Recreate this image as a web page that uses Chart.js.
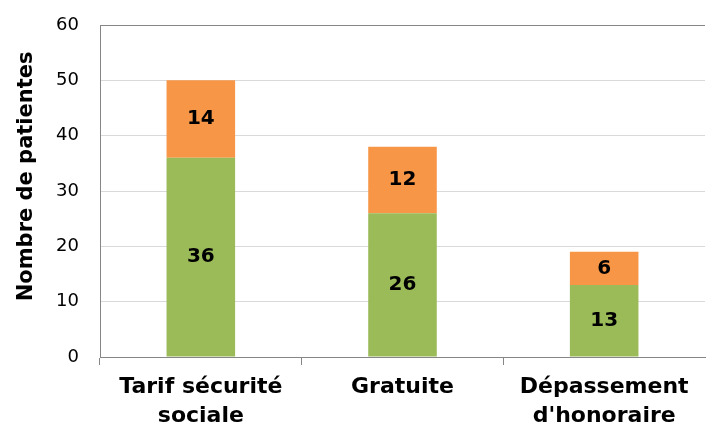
<!DOCTYPE html>
<html>
<head>
<meta charset="utf-8">
<script src="https://cdn.jsdelivr.net/npm/chart.js@4"></script>
<style>
  html, body { margin: 0; padding: 0; background: #fff; }
  #wrap { width: 706px; height: 428px; }
</style>
</head>
<body>
<div id="wrap"><canvas id="chart" width="706" height="428"></canvas></div>
<script>
const categories = [['Tarif sécurité', 'sociale'], 'Gratuite', ['Dépassement', "d'honoraire"]];
const lowerValues = [36, 26, 13];
const upperValues = [14, 12, 6];
const yTicks = [0, 10, 20, 30, 40, 50, 60];

const FONT = "'DejaVu Sans', Verdana, sans-serif";

// draws the numbers in the middle of each bar segment
const barLabels = {
  id: 'barLabels',
  afterDatasetsDraw(chart) {
    const ctx = chart.ctx;
    ctx.save();
    ctx.font = 'bold 20px ' + FONT;
    ctx.fillStyle = '#000';
    ctx.textAlign = 'center';
    ctx.textBaseline = 'middle';
    chart.data.datasets.forEach((ds, i) => {
      chart.getDatasetMeta(i).data.forEach((bar, j) => {
        const mid = (bar.y + bar.base) / 2;
        ctx.fillText(ds.data[j], bar.x, mid);
      });
    });
    ctx.restore();
  }
};

new Chart(document.getElementById('chart').getContext('2d'), {
  type: 'bar',
  data: {
    labels: categories,
    datasets: [
      { label: 'a', data: lowerValues, backgroundColor: '#9BBB59' },
      { label: 'b', data: upperValues, backgroundColor: '#F79646' }
    ]
  },
  options: {
    responsive: false,
    animation: false,
    layout: { padding: { top: 25, right: 1, left: 0, bottom: 0 } },
    plugins: { legend: { display: false }, tooltip: { enabled: false } },
    datasets: { bar: { categoryPercentage: 1, barPercentage: 0.34 } },
    scales: {
      x: {
        stacked: true,
        grid: {
          offset: true, drawOnChartArea: false, tickLength: 8,
          // no tick mark at the right end of the axis
          color: ctx => ctx.tick === undefined ? 'rgba(0,0,0,0)' : '#868686'
        },
        border: { display: true, color: '#868686' },
        ticks: { color: '#000', font: { family: FONT, size: 22, weight: 'bold', lineHeight: 1.35 }, padding: 7, maxRotation: 0 },
        afterFit(scale) { scale.height = 71; }
      },
      y: {
        stacked: true,
        min: 0,
        max: 60,
        afterBuildTicks(scale) { scale.ticks = yTicks.map(v => ({ value: v })); },
        grid: {
          drawTicks: false,
          color: ctx => ctx.tick && (ctx.tick.value === 60 || ctx.tick.value === 0) ? '#868686' : '#D9D9D9'
        },
        border: { display: true, color: '#868686' },
        ticks: { color: '#000', font: { family: FONT, size: 18 }, padding: 21 },
        title: { display: true, text: '    Nombre de patientes', color: '#000', font: { family: FONT, size: 21, weight: 'bold' }, padding: { top: 14, bottom: 0 } },
        afterFit(scale) {
          scale.width = 100;
          scale.paddingTop = 12;
        }
      }
    }
  },
  plugins: [barLabels]
});
</script>
</body>
</html>
